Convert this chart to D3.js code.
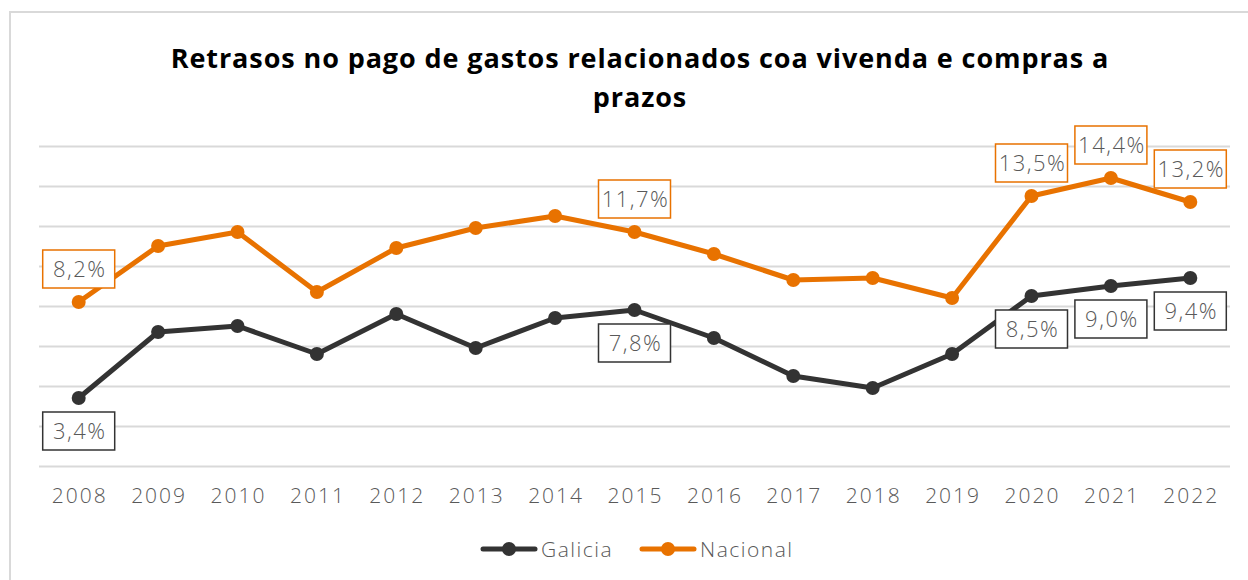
<!DOCTYPE html>
<html>
<head>
<meta charset="utf-8">
<script src="https://cdn.jsdelivr.net/npm/d3@7"></script>
<style>
  body { margin: 0; background: #fff; }
  svg { display: block; font-family: "Open Sans", Lato, sans-serif; }
</style>
</head>
<body>
<div id="chart"></div>
<script>
const years = ['2008','2009','2010','2011','2012','2013','2014','2015','2016','2017','2018','2019','2020','2021','2022']
const galicia  = [3.4, 6.7, 7.0, 5.6, 7.6, 5.9, 7.4, 7.8, 6.4, 4.5, 3.9, 5.6, 8.5, 9.0, 9.4]
const nacional = [8.2, 11.0, 11.7, 8.7, 10.9, 11.9, 12.5, 11.7, 10.6, 9.3, 9.4, 8.4, 13.5, 14.4, 13.2]
const labelYears = ['2008','2015','2020','2021','2022']
const yTicks = [0, 2, 4, 6, 8, 10, 12, 14, 16]

const width = 1248, height = 580
const margin = {top: 146, right: 18, bottom: 114, left: 39}
const font = '"Open Sans", Lato, sans-serif'

const series = [
  {name: 'Galicia', values: galicia, color: '#333333', dy: 33},
  {name: 'Nacional', values: nacional, color: '#E87200', dy: -33}
]

const svg = d3.select('#chart').append('svg')
  .attr('width', width)
  .attr('height', height)

// frame
svg.append('rect')
  .attr('x', 10).attr('y', 12)
  .attr('width', width + 10).attr('height', height + 10)
  .attr('fill', 'none')
  .attr('stroke', '#d9d9d9')
  .attr('stroke-width', 2)

const x = d3.scaleBand()
  .domain(years)
  .range([margin.left, width - margin.right])

const y = d3.scaleLinear()
  .domain([0, 16])
  .range([height - margin.bottom, margin.top])

// gridlines
svg.append('g')
  .call(d3.axisLeft(y).tickValues(yTicks).tickSize(-(width - margin.left - margin.right)).tickFormat(''))
  .attr('transform', `translate(${margin.left},0)`)
  .call(g => g.select('.domain').remove())
  .call(g => g.selectAll('line').attr('stroke', '#d9d9d9').attr('stroke-width', 2))

// x axis
svg.append('g')
  .attr('transform', `translate(0,${height - margin.bottom})`)
  .call(d3.axisBottom(x).tickSize(0).tickPadding(22))
  .call(g => g.select('.domain').remove())
  .call(g => g.selectAll('text')
    .attr('font-size', '21px')
    .attr('font-weight', 300)
    .attr('letter-spacing', '2px')
    .attr('dx', '1px')
    .attr('fill', '#595959')
    .attr('font-family', font))

const cx = d => x(d) + x.bandwidth() / 2

const line = d3.line()
  .x((d, i) => cx(years[i]))
  .y(d => y(d))

series.forEach(s => {
  const g = svg.append('g')
  g.append('path')
    .datum(s.values)
    .attr('d', line)
    .attr('fill', 'none')
    .attr('stroke', s.color)
    .attr('stroke-width', 5)
    .attr('stroke-linejoin', 'round')
  g.selectAll('circle')
    .data(s.values)
    .join('circle')
    .attr('cx', (d, i) => cx(years[i]))
    .attr('cy', d => y(d))
    .attr('r', 7)
    .attr('fill', s.color)
})

// data labels (drawn on top)
series.forEach(s => {
  const pts = years.map((yr, i) => ({yr, v: s.values[i]})).filter(d => labelYears.includes(d.yr))
  const lg = svg.append('g').selectAll('g')
    .data(pts)
    .join('g')
    .attr('transform', d => `translate(${cx(d.yr)},${y(d.v) + s.dy})`)
  lg.append('rect')
    .attr('x', -36).attr('y', -19)
    .attr('width', 72).attr('height', 38)
    .attr('fill', '#fff')
    .attr('stroke', s.color)
    .attr('stroke-width', 1.5)
  lg.append('text')
    .attr('text-anchor', 'middle')
    .attr('x', 1)
    .attr('dy', '0.36em')
    .attr('font-size', '22px')
    .attr('font-weight', 300)
    .attr('letter-spacing', '1.5px')
    .attr('fill', '#595959')
    .text(d => d3.format('.1f')(d.v).replace('.', ',') + '%')
})

// title
const title = svg.append('text')
  .attr('text-anchor', 'middle')
  .attr('font-size', '27px')
  .attr('font-weight', 'bold')
  .attr('letter-spacing', '0.9px')
  .attr('fill', '#000')
title.append('tspan').attr('x', 640).attr('y', 68).text('Retrasos no pago de gastos relacionados coa vivenda e compras a')
title.append('tspan').attr('x', 640).attr('y', 107).text('prazos')

// legend
const legend = svg.append('g').attr('transform', 'translate(481,549)')
const legendX = [0, 159]
series.forEach((s, i) => {
  const lg = legend.append('g').attr('transform', `translate(${legendX[i]},0)`)
  lg.append('line')
    .attr('x1', 2).attr('x2', 54)
    .attr('stroke', s.color).attr('stroke-width', 5).attr('stroke-linecap', 'round')
  lg.append('circle').attr('cx', 28).attr('r', 7).attr('fill', s.color)
  lg.append('text')
    .attr('x', 60).attr('dy', '0.36em')
    .attr('font-size', '21px')
    .attr('font-weight', 300)
    .attr('letter-spacing', '1.5px')
    .attr('fill', '#595959')
    .text(s.name)
})
</script>
</body>
</html>
